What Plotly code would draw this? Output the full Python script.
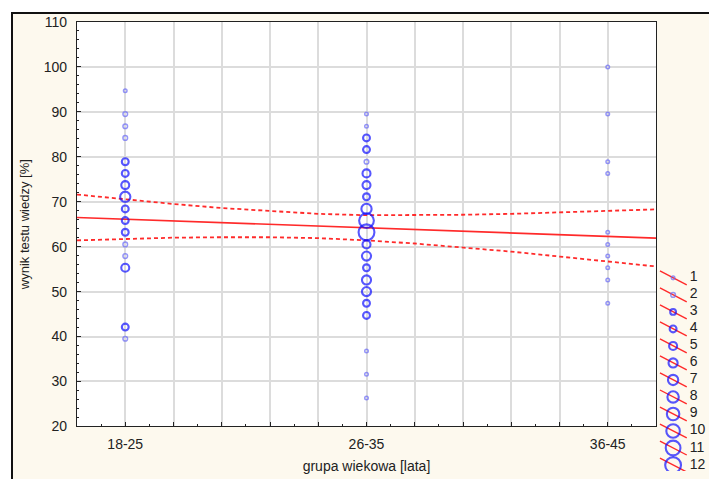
import plotly.graph_objects as go

# ---------------- data ----------------
categories = ["18-25", "26-35", "36-45"]

g1_scores = [94.7, 89.5, 86.8, 84.2, 78.9, 76.3, 73.7, 71.1, 68.4, 65.8, 63.2, 60.5, 57.9, 55.3, 42.1, 39.5]
g1_counts = [1, 2, 2, 2, 4, 4, 5, 7, 4, 4, 4, 2, 2, 5, 4, 2]

g2_scores = [89.5, 86.8, 84.2, 81.6, 78.9, 76.3, 73.7, 71.1, 68.4, 65.8, 63.2, 60.5, 57.9, 55.3,
             52.6, 50.0, 47.4, 44.7, 36.8, 31.6, 26.3]
g2_counts = [1, 1, 4, 4, 2, 5, 5, 4, 7, 11, 12, 5, 6, 4, 6, 6, 4, 4, 1, 1, 1]

g3_scores = [100.0, 89.5, 78.9, 76.3, 63.2, 60.5, 57.9, 55.3, 52.6, 47.4]
g3_counts = [1, 1, 1, 1, 1, 1, 1, 1, 1, 1]

fit_x = [0.8, 3.2]
fit_y = [66.5, 61.9]

band_x = [0.8, 1.0, 1.2, 1.4, 1.6, 1.8, 2.0, 2.2, 2.4, 2.6, 2.8, 3.0, 3.2]
band_upper = [71.6, 70.5, 69.5, 68.6, 67.9, 67.3, 67.0, 67.0, 67.1, 67.3, 67.6, 67.9, 68.3]
band_lower = [61.4, 61.7, 62.0, 62.1, 62.1, 61.9, 61.4, 60.7, 59.8, 58.9, 57.8, 56.7, 55.6]

legend_counts = [1, 2, 3, 4, 5, 6, 7, 8, 9, 10, 11, 12]

# ---------------- styling helpers ----------------
RED = "#ff2a2a"
BLUE = "#1010ff"
LIGHT = "#6a6af5"


def msize(n):
    return 2.4 + 1.12 * n


def mcolor(n):
    return LIGHT if n <= 2 else BLUE


def mwidth(n):
    return 1.5 if n <= 2 else 2.1


fig = go.Figure()

# regression and confidence bands
fig.add_trace(go.Scatter(x=band_x, y=band_upper, mode="lines",
                         line=dict(color=RED, width=1.8, dash="4px,3px"), hoverinfo="skip"))
fig.add_trace(go.Scatter(x=band_x, y=band_lower, mode="lines",
                         line=dict(color=RED, width=1.8, dash="4px,3px"), hoverinfo="skip"))
fig.add_trace(go.Scatter(x=fit_x, y=fit_y, mode="lines",
                         line=dict(color=RED, width=1.6), hoverinfo="skip"))

# points
for i, (scores, counts) in enumerate([(g1_scores, g1_counts), (g2_scores, g2_counts), (g3_scores, g3_counts)]):
    fig.add_trace(go.Scatter(
        x=[i + 1] * len(scores), y=scores, mode="markers",
        marker=dict(symbol="circle-open",
                    size=[msize(c) for c in counts],
                    color=[mcolor(c) for c in counts],
                    line=dict(width=[mwidth(c) for c in counts])),
    ))

# custom legend (own axes on the right)
lx, ly = [], []
for n in legend_counts:
    lx += [0.03, 0.56, None]
    ly += [n - 0.41, n + 0.41, None]
fig.add_trace(go.Scatter(x=lx, y=ly, mode="lines", xaxis="x2", yaxis="y2",
                         line=dict(color=RED, width=1.4), hoverinfo="skip"))
fig.add_trace(go.Scatter(
    x=[0.29] * len(legend_counts), y=legend_counts, mode="markers", xaxis="x2", yaxis="y2",
    marker=dict(symbol="circle-open", size=[msize(n) for n in legend_counts],
                color=[mcolor(n) for n in legend_counts],
                line=dict(width=[mwidth(n) for n in legend_counts])),
    hoverinfo="skip"))
fig.add_trace(go.Scatter(
    x=[0.62] * len(legend_counts), y=legend_counts, mode="text", xaxis="x2", yaxis="y2",
    text=[str(n) for n in legend_counts], textposition="middle right",
    textfont=dict(family="Liberation Sans, Arial, sans-serif", size=14, color="#222"),
    hoverinfo="skip"))

# tick positions every 0.2 with labels at categories
tickvals = [round(0.8 + 0.2 * k, 1) for k in range(13)]
ticktext = []
for v in tickvals:
    if abs(v - round(v)) < 1e-9 and 1 <= round(v) <= len(categories):
        ticktext.append(categories[int(round(v)) - 1])
    else:
        ticktext.append("")

FONT = "Liberation Sans, Arial, sans-serif"
PW = 709 - 77
PH = 479 - 22 - 4
x_dom_right = (656 - 77) / PW
y_dom_bottom = (475 - 430) / PH

fig.update_layout(
    width=709, height=479,
    margin=dict(l=77, r=0, t=22, b=4),
    paper_bgcolor="white", plot_bgcolor="white",
    showlegend=False,
    font=dict(family=FONT, color="#222"),
    xaxis=dict(domain=[0, x_dom_right], range=[0.8, 3.2],
               tickmode="array", tickvals=tickvals, ticktext=ticktext,
               ticks="inside", ticklen=4, tickcolor="#222",
               minor=dict(dtick=0.1, tick0=0, ticks="inside", ticklen=2, tickcolor="#222", showgrid=False),
               showgrid=True, gridcolor="#dcdcdc", gridwidth=1.6,
               showline=True, linecolor="#222", linewidth=1.2, mirror=True,
               zeroline=False, tickfont=dict(size=14, color="#222"), ticklabelstandoff=5,
               title=dict(text="grupa wiekowa [lata]", font=dict(size=14, color="#222"), standoff=9)),
    yaxis=dict(domain=[y_dom_bottom, 1], range=[20, 110], dtick=10, tick0=0,
               ticks="inside", ticklen=4, tickcolor="#222",
               minor=dict(dtick=2, ticks="inside", ticklen=2, tickcolor="#222", showgrid=False),
               showgrid=True, gridcolor="#dcdcdc", gridwidth=1.6,
               showline=True, linecolor="#222", linewidth=1.2, mirror=True,
               zeroline=False, tickfont=dict(size=14, color="#222"), ticklabelstandoff=6,
               title=dict(text="wynik testu wiedzy [%]", font=dict(size=13, color="#222"), standoff=11)),
    xaxis2=dict(domain=[0.92, 1.0], range=[0, 1], visible=False, anchor="y2", fixedrange=True),
    yaxis2=dict(domain=[0, 0.45], range=[12.35, 0.476], visible=False, anchor="x2", fixedrange=True),
    shapes=[
        dict(type="rect", xref="paper", yref="paper",
             x0=(12 - 77) / PW, x1=1.02, y0=-0.05, y1=(475 - 13) / PH,
             fillcolor="#fdf9ee", line=dict(color="#111", width=2), layer="below"),
        dict(type="rect", xref="x domain", yref="y domain", x0=0, x1=1, y0=0, y1=1,
             fillcolor="white", line=dict(width=0), layer="below"),
    ],
)

fig.write_html("out.html")
